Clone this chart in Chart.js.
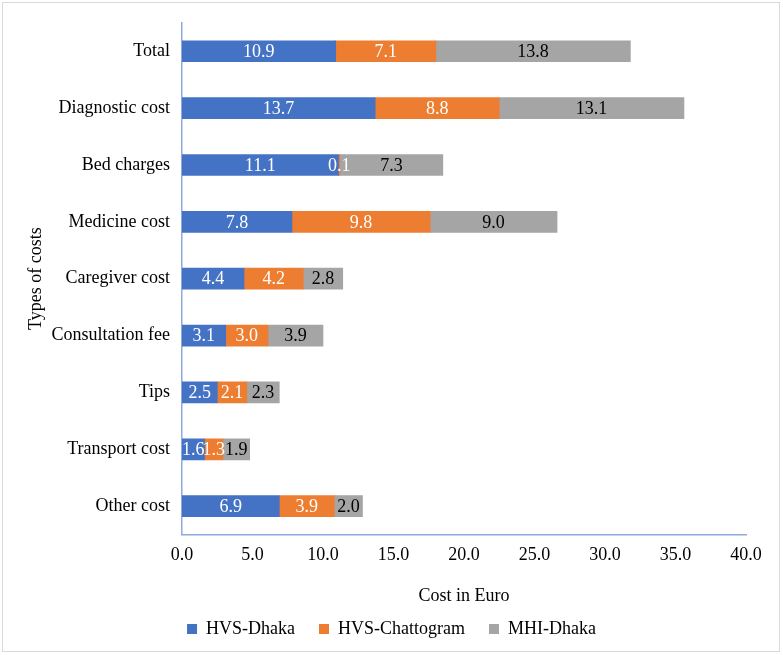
<!DOCTYPE html>
<html>
<head>
<meta charset="utf-8">
<script src="https://cdn.jsdelivr.net/npm/chart.js@4/dist/chart.umd.min.js"></script>
<style>
  html, body { margin: 0; padding: 0; background: #fff; }
  #wrap { position: relative; width: 783px; height: 655px; }
  #frame {
    position: absolute; left: 2px; top: 2px; width: 776px; height: 648px;
    border: 1px solid #d9d9d9; pointer-events: none;
  }
</style>
</head>
<body>
<div id="wrap">
  <canvas id="costChart" width="783" height="655"></canvas>
  <div id="frame"></div>
</div>
<script>
const categories = [
  "Total",
  "Diagnostic cost",
  "Bed charges",
  "Medicine cost",
  "Caregiver cost",
  "Consultation fee",
  "Tips",
  "Transport cost",
  "Other cost",
];
const hvsDhaka = [10.9, 13.7, 11.1, 7.8, 4.4, 3.1, 2.5, 1.6, 6.9];
const hvsChattogram = [7.1, 8.8, 0.1, 9.8, 4.2, 3.0, 2.1, 1.3, 3.9];
const mhiDhaka = [13.8, 13.1, 7.3, 9.0, 2.8, 3.9, 2.3, 1.9, 2.0];
const seriesNames = ["HVS-Dhaka", "HVS-Chattogram", "MHI-Dhaka"];
const seriesColors = ["#4472C4", "#ED7D31", "#A5A5A5"];
const labelColors = ["#ffffff", "#ffffff", "#000000"];

const serif = "'Liberation Serif', 'Times New Roman', serif";
const axisColor = "#8FAADC";
const fontSize = 18;

// draws the value inside each bar segment
const barValueLabels = {
  id: "barValueLabels",
  afterDatasetsDraw(chart) {
    const ctx = chart.ctx;
    ctx.save();
    ctx.font = fontSize + "px " + serif;
    ctx.textAlign = "center";
    ctx.textBaseline = "middle";
    chart.data.datasets.forEach((ds, i) => {
      const meta = chart.getDatasetMeta(i);
      meta.data.forEach((bar, j) => {
        const v = ds.data[j];
        ctx.fillStyle = labelColors[i];
        ctx.fillText(v.toFixed(1), (bar.x + bar.base) / 2, bar.y + 1);
      });
    });
    ctx.restore();
  },
};

// legend sits centred on the whole picture, not between the paddings
const legendShift = {
  id: "legendShift",
  afterLayout(chart) {
    if (chart.legend) {
      chart.legend.left += 8;
      chart.legend.right += 8;
    }
  },
};

const ctx = document.getElementById("costChart").getContext("2d");
new Chart(ctx, {
  type: "bar",
  data: {
    labels: categories,
    datasets: [hvsDhaka, hvsChattogram, mhiDhaka].map((data, i) => ({
      label: seriesNames[i],
      data,
      backgroundColor: seriesColors[i],
      barThickness: 21,
    })),
  },
  options: {
    indexAxis: "y",
    responsive: false,
    animation: false,
    layout: { padding: { top: 20, right: 37, left: 21, bottom: 7 } },
    scales: {
      x: {
        stacked: true,
        min: 0,
        max: 40,
        ticks: {
          stepSize: 5,
          padding: 10,
          color: "#000",
          font: { family: serif, size: fontSize },
          callback: (v) => v.toFixed(1),
        },
        grid: { display: false, drawTicks: false },
        border: { color: axisColor, width: 1.5 },
        title: {
          display: true,
          text: "Cost in Euro",
          color: "#000",
          font: { family: serif, size: fontSize },
          padding: { top: 9.6, bottom: -11.4 },
        },
      },
      y: {
        stacked: true,
        afterFit: (scale) => { scale.width = 161; },
        ticks: {
          padding: 12,
          color: "#000",
          font: { family: serif, size: fontSize },
        },
        grid: { display: false, drawTicks: false },
        border: { color: axisColor, width: 1.5 },
        title: {
          display: true,
          text: "Types of costs",
          color: "#000",
          font: { family: serif, size: fontSize },
          padding: 4,
        },
      },
    },
    plugins: {
      legend: {
        position: "bottom",
        labels: {
          boxWidth: 10,
          boxHeight: 10,
          padding: 24,
          color: "#000",
          font: { family: serif, size: fontSize },
        },
      },
      tooltip: { enabled: false },
    },
  },
  plugins: [barValueLabels, legendShift],
});
</script>
</body>
</html>
